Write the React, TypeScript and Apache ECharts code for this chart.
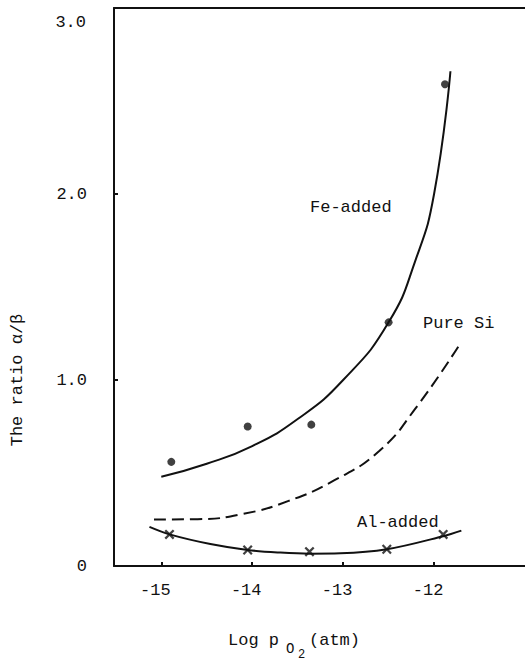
import React, { useEffect, useRef } from "react";
import * as echarts from "echarts";

const xTicks = [-15, -14, -13, -12];
const yTicks = [0, 1, 2, 3];

const feDots = [
  [-14.89, 0.56],
  [-14.05, 0.75],
  [-13.35, 0.76],
  [-12.5, 1.31],
  [-11.88, 2.59],
];
const feCurve = [
  [-15.0, 0.48],
  [-14.5, 0.55],
  [-14.0, 0.645],
  [-13.5, 0.79],
  [-13.0, 1.0],
  [-12.5, 1.31],
  [-12.2, 1.65],
  [-12.0, 2.0],
  [-11.82, 2.66],
];
const pureSiCurve = [
  [-15.08, 0.25],
  [-14.6, 0.252],
  [-14.1, 0.28],
  [-13.6, 0.35],
  [-13.1, 0.46],
  [-12.6, 0.62],
  [-12.2, 0.85],
  [-11.72, 1.19],
];
const alMarks = [
  [-14.91, 0.17],
  [-14.05, 0.086],
  [-13.37, 0.077],
  [-12.52, 0.09],
  [-11.9, 0.17],
];
const alCurve = [
  [-15.13, 0.21],
  [-14.91, 0.17],
  [-14.46, 0.118],
  [-14.05, 0.086],
  [-13.69, 0.072],
  [-13.37, 0.066],
  [-13.03, 0.068],
  [-12.52, 0.09],
  [-11.9, 0.16],
  [-11.7, 0.19],
];
const seriesNames = ["Fe-added", "Pure Si", "Al-added"];
const yTitle = "The ratio \u03b1/\u03b2";
const xTitleParts = ["Log p", "O", "2", "(atm)"];

const FONT = "'Liberation Mono', 'DejaVu Sans Mono', monospace";
const INK = "#111";
const CROSS =
  "path://M0,1.6L1.6,0L5,3.4L8.4,0L10,1.6L6.6,5L10,8.4L8.4,10L5,6.6L1.6,10L0,8.4L3.4,5Z";

const fmtY = (v: number) => (v === 0 ? "0" : v.toFixed(1));

export default function App() {
  const ref = useRef<HTMLDivElement>(null);
  useEffect(() => {
    if (!ref.current) return;
    const chart = echarts.init(ref.current, undefined, { renderer: "svg" });
    const axisCommon = {
      min: -15.52,
      max: -11.0,
    };
    const txt = (text: string, x: number, y: number, size = 17, extra: any = {}) => ({
      type: "text",
      x,
      y,
      ...extra,
      style: {
        text,
        fill: INK,
        font: `${size}px ${FONT}`,
        verticalAlign: "middle",
        ...(extra.style || {}),
      },
    });
    chart.setOption({
      animation: false,
      backgroundColor: "#fff",
      grid: { left: 114, top: 8, right: 0, bottom: 98, containLabel: false },
      xAxis: [
        {
          type: "value",
          position: "bottom",
          ...axisCommon,
          axisLine: { show: true, lineStyle: { color: INK, width: 2 } },
          axisTick: {
            show: true,
            inside: true,
            length: 4,
            lineStyle: { color: INK, width: 2 },
            customValues: xTicks,
          },
          axisLabel: {
            show: true,
            customValues: xTicks,
            margin: 16,
            color: INK,
            fontFamily: FONT,
            fontSize: 17,
            padding: [0, 12, 0, 0],
            formatter: (v: number) => String(v),
          },
          splitLine: { show: false },
        },
        {
          type: "value",
          position: "top",
          ...axisCommon,
          axisLine: { show: true, onZero: false, lineStyle: { color: INK, width: 2 } },
          axisTick: { show: false },
          axisLabel: { show: false },
          splitLine: { show: false },
        },
      ],
      yAxis: {
        type: "value",
        min: 0,
        max: 3,
        interval: 1,
        axisLine: { show: true, lineStyle: { color: INK, width: 2 } },
        axisTick: {
          show: true,
          inside: true,
          length: 4,
          lineStyle: { color: INK, width: 2 },
          customValues: yTicks,
        },
        axisLabel: {
          show: true,
          customValues: yTicks.slice(0, 3),
          margin: 27,
          color: INK,
          fontFamily: FONT,
          fontSize: 17,
          formatter: (v: number) => fmtY(v),
        },
        splitLine: { show: false },
      },
      series: [
        {
          name: seriesNames[0] + " fit",
          type: "line",
          data: feCurve,
          smooth: 0.5,
          showSymbol: false,
          symbol: "none",
          lineStyle: { color: INK, width: 2 },
        },
        {
          name: seriesNames[0],
          type: "scatter",
          data: feDots,
          symbol: "circle",
          symbolSize: 8,
          itemStyle: { color: INK },
        },
        {
          name: seriesNames[1],
          type: "line",
          data: pureSiCurve,
          smooth: 0.5,
          showSymbol: false,
          symbol: "none",
          lineStyle: { color: INK, width: 2, type: [12, 6] },
        },
        {
          name: seriesNames[2] + " fit",
          type: "line",
          data: alCurve,
          smooth: 0.35,
          showSymbol: false,
          symbol: "none",
          lineStyle: { color: INK, width: 2 },
        },
        {
          name: seriesNames[2],
          type: "scatter",
          data: alMarks,
          symbol: CROSS,
          symbolSize: 10,
          itemStyle: { color: INK },
          z: 5,
        },
      ],
      graphic: [
        txt(fmtY(yTicks[3]), 86, 22, 17, { style: { align: "right" } }),
        txt(seriesNames[0], 310, 207),
        txt(seriesNames[1], 423, 323),
        txt(seriesNames[2], 357, 522),
        txt(yTitle, 17, 380, 17, { rotation: Math.PI / 2, style: { align: "center" } }),
        txt(xTitleParts[0], 228, 640),
        txt(xTitleParts[1], 286, 649, 14),
        txt(xTitleParts[2], 298, 655, 12),
        txt(xTitleParts[3], 309, 640),
      ],
    });
    return () => chart.dispose();
  }, []);
  return (
    <div
      ref={ref}
      style={{ position: "fixed", left: 0, top: 0, width: 525, height: 664, background: "#fff" }}
    />
  );
}
